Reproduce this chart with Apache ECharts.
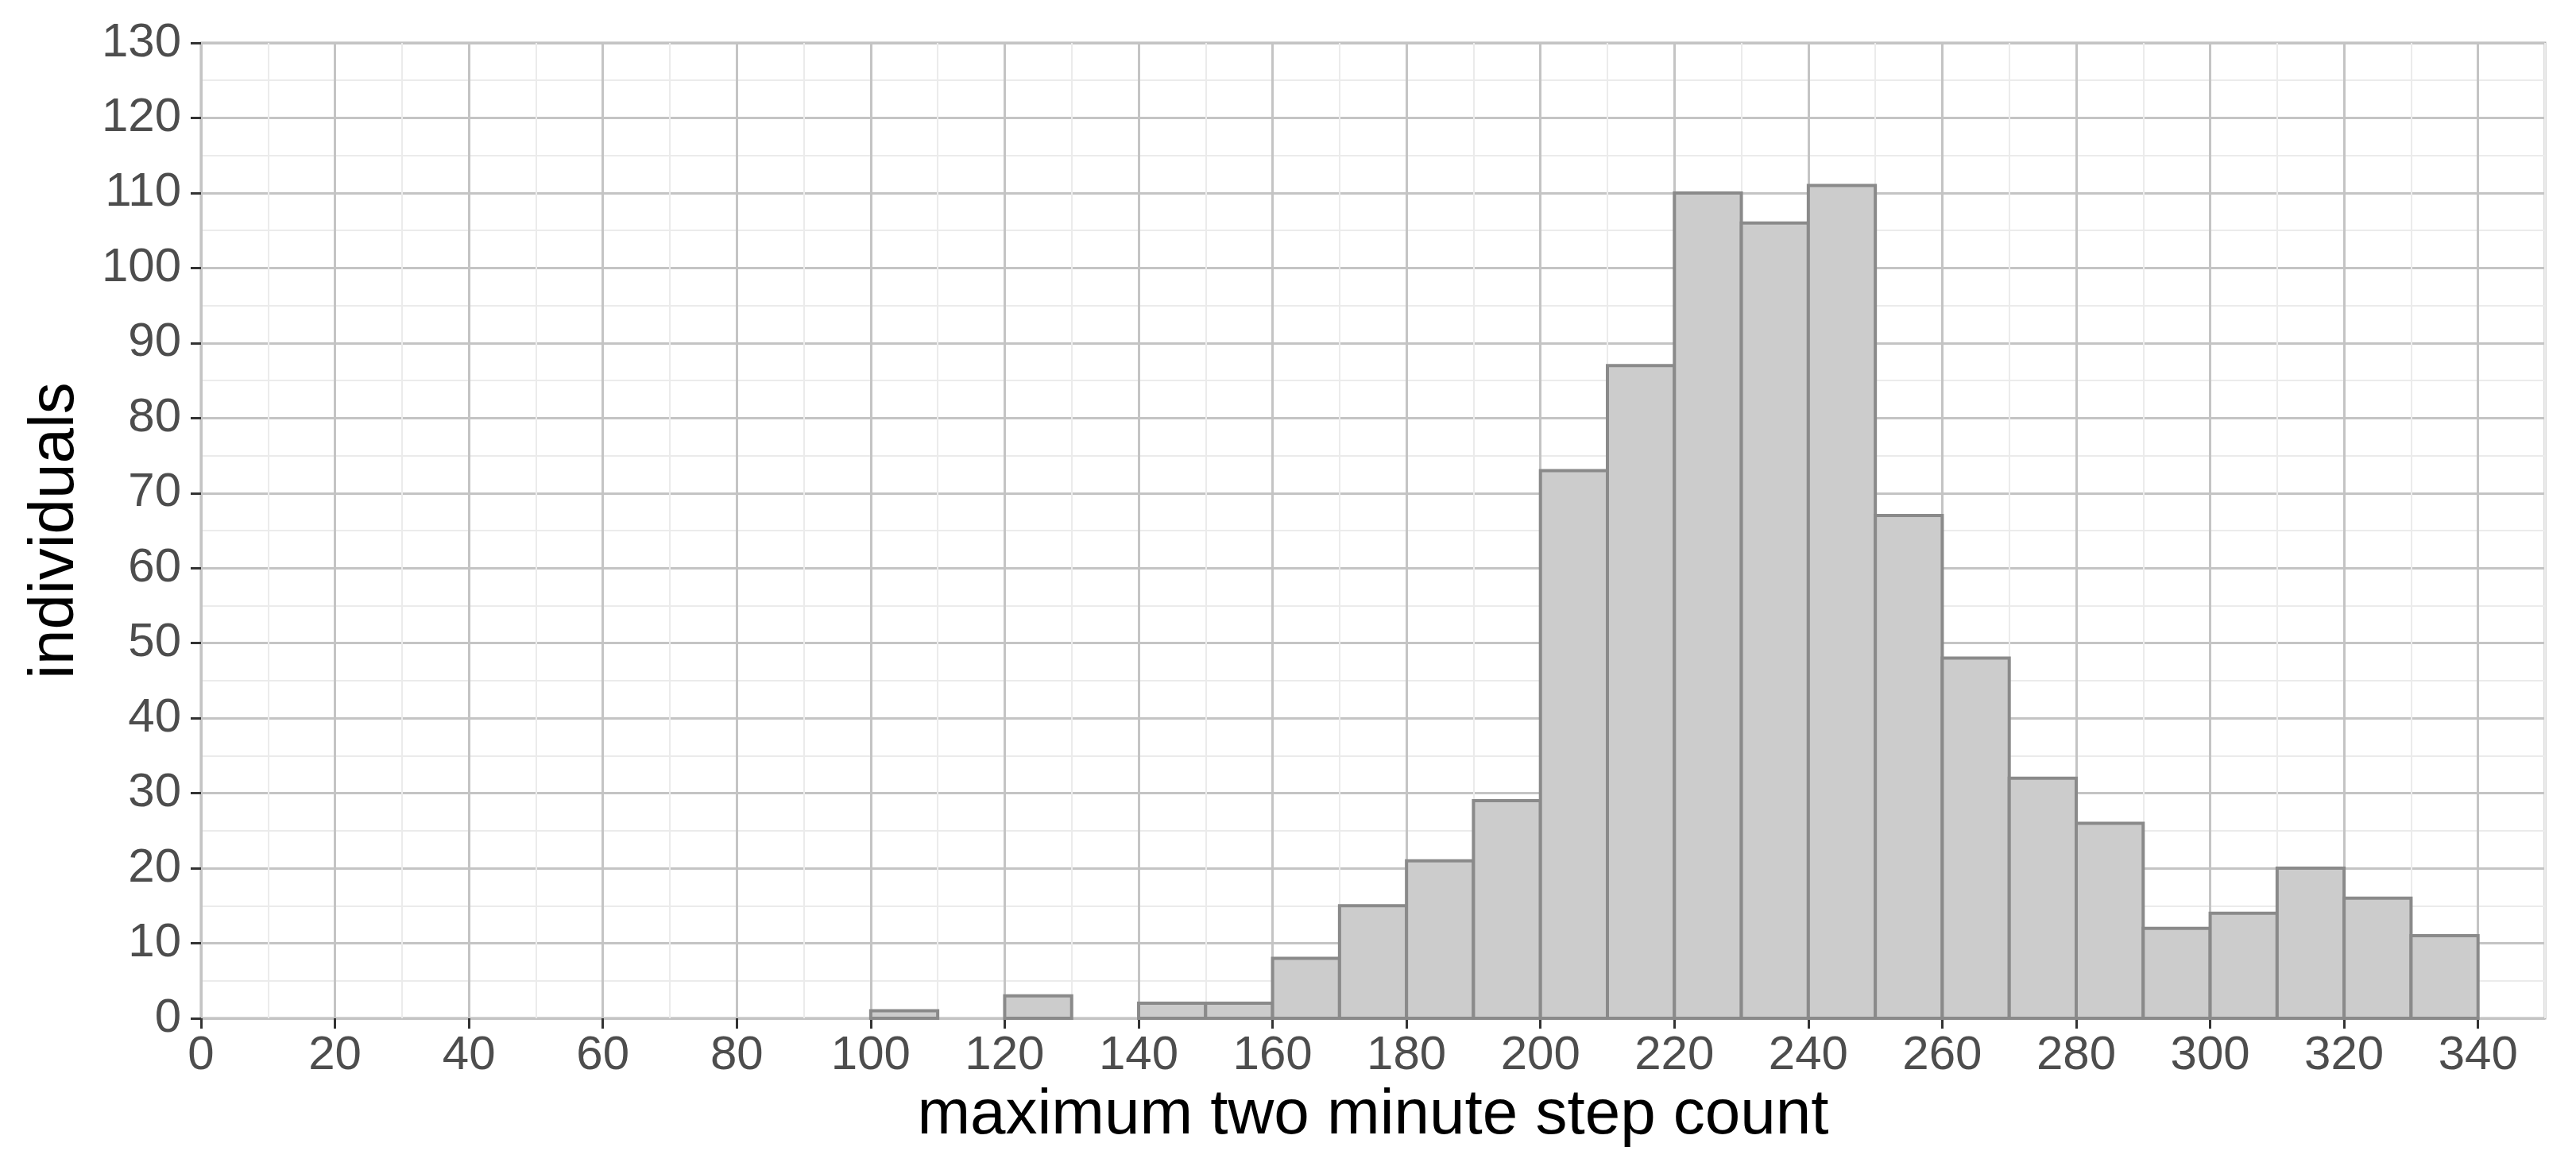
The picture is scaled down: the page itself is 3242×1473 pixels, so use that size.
<!DOCTYPE html>
<html>
<head>
<meta charset="utf-8">
<script src="https://cdn.jsdelivr.net/npm/echarts@6/dist/echarts.min.js"></script>
<style>
html,body{margin:0;padding:0;background:#fff;}
#chart{width:3242px;height:1473px;}
</style>
</head>
<body>
<div id="chart"></div>
<script>
// Histogram bins (left edge, width 10) and counts
const binStarts = [100,110,120,130,140,150,160,170,180,190,200,210,220,230,240,250,260,270,280,290,300,310,320,330];
const counts    = [1,0,3,0,2,2,8,15,21,29,73,87,110,106,111,67,48,32,26,12,14,20,16,11];
const binWidth = 10;
const xTickValues = [0,20,40,60,80,100,120,140,160,180,200,220,240,260,280,300,320,340];
const xTitle = 'maximum two minute step count';
const yTitle = 'individuals';

const FONT = '"Liberation Sans", Arial, Helvetica, sans-serif';
const data = binStarts.map((s, i) => [s, s + binWidth, counts[i]]);

const chart = echarts.init(document.getElementById('chart'), null, {renderer: 'canvas'});
chart.setOption({
  backgroundColor: '#ffffff',
  animation: false,
  grid: {left: 253, top: 54, right: 39, bottom: 191, show: true, borderColor: '#b3b3b3', borderWidth: 3, containLabel: false},
  xAxis: [
    { // minor grid
      type: 'value', min: 0, max: 350, interval: 10, position: 'bottom',
      axisLine: {show: false}, axisTick: {show: false}, axisLabel: {show: false},
      splitLine: {show: true, lineStyle: {color: '#ebebeb', width: 2}}
    },
    { // major
      type: 'value', min: 0, max: 350, interval: 20, position: 'bottom',
      name: xTitle, nameLocation: 'middle', nameGap: 83,
      nameTextStyle: {fontFamily: FONT, fontSize: 80, color: '#000000'},
      axisLine: {show: false},
      axisTick: {show: true, length: 13, customValues: xTickValues, lineStyle: {color: '#333333', width: 3}},
      axisLabel: {show: true, customValues: xTickValues, margin: 17, fontFamily: FONT, fontSize: 60, color: '#4d4d4d'},
      splitLine: {show: true, lineStyle: {color: '#c4c4c4', width: 3}}
    }
  ],
  yAxis: {
    type: 'value', min: 0, max: 130, interval: 10,
    name: yTitle, nameLocation: 'middle', nameGap: 143,
    nameTextStyle: {fontFamily: FONT, fontSize: 80, color: '#000000'},
    axisLine: {show: false},
    axisTick: {show: true, length: 13, lineStyle: {color: '#333333', width: 3}},
    axisLabel: {margin: 25, fontFamily: FONT, fontSize: 60, color: '#4d4d4d'},
    splitLine: {show: true, lineStyle: {color: '#c4c4c4', width: 3}},
    minorTick: {show: false, splitNumber: 2},
    minorSplitLine: {show: true, lineStyle: {color: '#ebebeb', width: 2}}
  },
  series: [{
    type: 'custom',
    xAxisIndex: 1,
    data: data,
    encode: {x: [0, 1], y: 2},
    renderItem: function (params, api) {
      const v = api.value(2);
      if (!v) return null;
      const p0 = api.coord([api.value(0), v]);
      const p1 = api.coord([api.value(1), 0]);
      return {
        type: 'rect',
        shape: {x: p0[0], y: p0[1], width: p1[0] - p0[0], height: p1[1] - p0[1]},
        style: {fill: '#cccccc', stroke: '#8a8a8a', lineWidth: 4}
      };
    }
  }]
});
</script>
</body>
</html>
